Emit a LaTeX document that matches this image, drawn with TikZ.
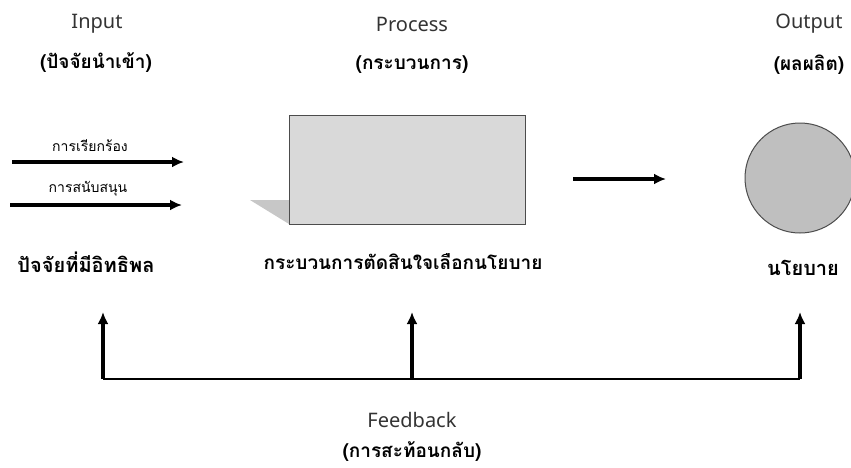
\documentclass[tikz,border=0pt]{standalone}
\usepackage{fontspec}
\setmainfont{Noto Sans}
\newfontfamily\thaifont[Script=Thai]{Loma}
\usetikzlibrary{arrows.meta}
\begin{document}
\begin{tikzpicture}[x=1pt,y=-1pt,
    head/.style={font=\fontsize{20}{22}\selectfont, text=black!80},
    thaihead/.style={font=\thaifont\bfseries\fontsize{19}{21}\selectfont},
    thaibig/.style={font=\thaifont\bfseries\fontsize{20}{22}\selectfont},
    thaismall/.style={font=\thaifont\fontsize{14}{16}\selectfont},
    arr/.style={-{Latex[length=12pt,width=11pt]}, line width=3.6pt}]
  \useasboundingbox (0,0) rectangle (851,467);
  % headings
  \node[head] (inp) at (97,24) {Input};
  \node[thaihead] (inpth) at (96,63) {(ปัจจัยนำเข้า)};
  \node[head] (proch) at (412,24) {Process};
  \node[thaihead] (procth) at (412,65) {(กระบวนการ)};
  \node[head] (outh) at (809,24) {Output};
  \node[thaihead] (outth) at (809,65) {(ผลผลิต)};
  % inputs
  \node[thaismall] (demand) at (90,146) {การเรียกร้อง};
  \node[thaismall] (support) at (88,189) {การสนับสนุน};
  \coordinate (d1) at (12,162);
  \coordinate (d2) at (184,162);
  \coordinate (s1) at (10,205);
  \coordinate (s2) at (182,205);
  \draw[arr] (d1) -- (d2);
  \draw[arr] (s1) -- (s2);
  \node[thaibig] (infl) at (86,262) {ปัจจัยที่มีอิทธิพล};
  % process box
  \fill[black!22] (250,200) -- (289,200) -- (289,224) -- cycle;
  \node[draw=black!70, fill=black!15, line width=1pt, minimum width=236pt,
    minimum height=109pt, inner sep=0] (proc) at (407,170) {};
  \node[thaibig, font=\thaifont\bfseries\fontsize{19}{21}\selectfont] (decide)
    at (403,262) {กระบวนการตัดสินใจเลือกนโยบาย};
  \coordinate (p1) at (573,179);
  \coordinate (p2) at (666,179);
  \draw[arr] (p1) -- (p2);
  % output
  \node[circle, draw=black!70, fill=black!25, line width=1pt,
    minimum size=110pt, inner sep=0] (out) at (800,178) {};
  \node[thaibig] (policy) at (803,268) {นโยบาย};
  % feedback
  \coordinate (f1) at (103,379);
  \coordinate (f2) at (412,379);
  \coordinate (f3) at (800,379);
  \coordinate (t1) at (103,312);
  \coordinate (t2) at (412,312);
  \coordinate (t3) at (800,312);
  \draw[line width=2.6pt] (f1) -- (f3);
  \draw[arr] (f1) -- (t1);
  \draw[arr] (f2) -- (t2);
  \draw[arr] (f3) -- (t3);
  \node[head] (fb) at (412,420) {Feedback};
  \node[thaihead] (fbth) at (412,452) {(การสะท้อนกลับ)};
\end{tikzpicture}
\end{document}
